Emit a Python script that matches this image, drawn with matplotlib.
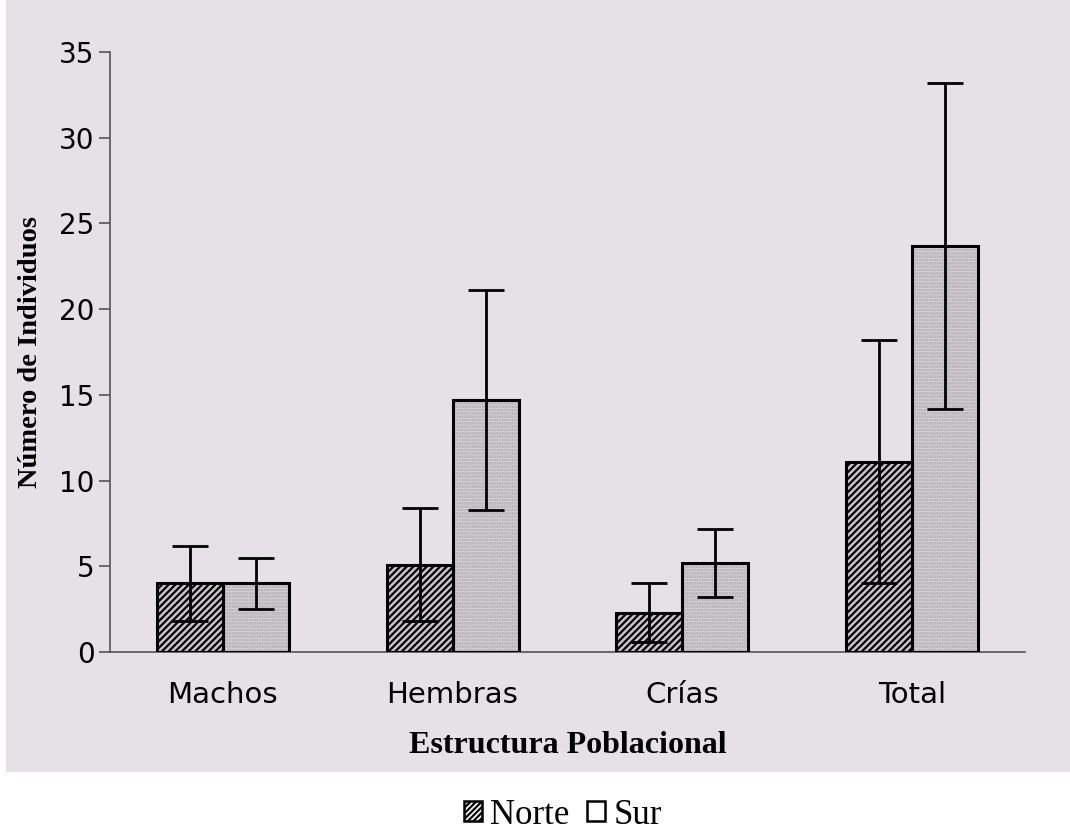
import matplotlib
matplotlib.use("Agg")
import matplotlib.pyplot as plt
import matplotlib.patches as mpatches
import numpy as np

categories = ["Machos", "Hembras", "Crías", "Total"]
norte = [4.0, 5.1, 2.3, 11.1]
norte_err = [2.2, 3.3, 1.7, 7.1]
sur = [4.0, 14.7, 5.2, 23.7]
sur_err = [1.5, 6.4, 2.0, 9.5]
yticks = [0, 5, 10, 15, 20, 25, 30, 35]

plt.rcParams['hatch.linewidth'] = 1.6

fig = plt.figure(figsize=(10.7, 8.34), dpi=100)
bgcol = '#e6e1e7'
bg = mpatches.Rectangle((6/1070, (834-772)/834), 1 - 6/1070, 772/834,
                        transform=fig.transFigure, facecolor=bgcol,
                        edgecolor='none', zorder=-10)
fig.add_artist(bg)
ax = fig.add_axes([110/1070, 1-652/834, (1025-110)/1070, 600/834])
ax.set_zorder(1)
ax.set_facecolor('none')

x = np.arange(len(categories))
w = 0.287
xn = x - w/2
xs = x + w/2

# Norte bars: black diagonal hatch
ax.bar(xn, norte, w, facecolor='#c8c3c9', edgecolor='black', hatch='/////', linewidth=0, zorder=2)
ax.bar(xn, norte, w, fill=False, edgecolor='black', linewidth=2.2, zorder=3)
# Sur bars: light dotted fill
ax.bar(xs, sur, w, facecolor='#dedade', edgecolor='#a8a4aa', hatch='.....', linewidth=0, zorder=2)
ax.bar(xs, sur, w, fill=False, edgecolor='black', linewidth=2.2, zorder=3)

ax.errorbar(xn, norte, yerr=norte_err, fmt='none', ecolor='black', elinewidth=2,
            capsize=13, capthick=2, zorder=4)
ax.errorbar(xs, sur, yerr=sur_err, fmt='none', ecolor='black', elinewidth=2,
            capsize=13, capthick=2, zorder=4)

ax.set_xlim(-0.49, 3.49)
ax.set_ylim(0, 35)
ax.set_yticks(yticks)
ax.set_xticks(x)
ax.set_xticklabels(categories, fontsize=21, family='DejaVu Sans')
ax.tick_params(axis='x', length=0, pad=21)
ax.tick_params(axis='y', length=8, width=1.2, labelsize=20, pad=3, color='#555555')
for lab in ax.get_yticklabels():
    lab.set_family('DejaVu Sans')

for s in ['top', 'right']:
    ax.spines[s].set_visible(False)
ax.spines['left'].set_color('#555555')
ax.spines['left'].set_linewidth(1.2)
ax.spines['bottom'].set_color('#555555')
ax.spines['bottom'].set_linewidth(1.2)

ax.set_ylabel('Número de Individuos', fontsize=20.5, fontweight='bold',
              family='Liberation Serif', labelpad=12)
ax.set_xlabel('Estructura Poblacional', fontsize=23, fontweight='bold',
              family='Liberation Serif', labelpad=16)

h1 = mpatches.Patch(facecolor='white', edgecolor='black', hatch='//////', linewidth=1.8)
h2 = mpatches.Patch(facecolor='white', edgecolor='black', linewidth=1.8)
fig.legend([h1, h2], ['Norte', 'Sur'], loc='center', bbox_to_anchor=(563/1070, 1-815/834),
           ncol=2, frameon=False, prop={'family': 'Liberation Serif', 'size': 25},
           handlelength=0.52, handleheight=0.52, handletextpad=0.25, columnspacing=0.5,
           borderpad=0.1)

fig.savefig('out.png', dpi=100)
